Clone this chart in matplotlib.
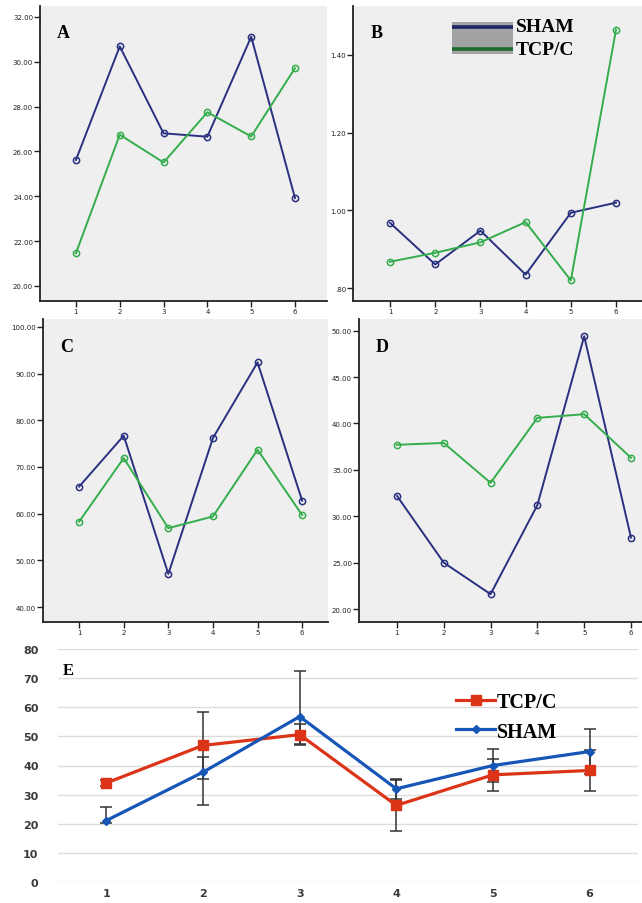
import numpy as np
import matplotlib.pyplot as plt
from matplotlib.patches import Rectangle

# data
days = [1, 2, 3, 4, 5, 6]

a_sham = [25.62, 30.69, 26.81, 26.66, 31.12, 23.92]
a_tcp = [21.46, 26.75, 25.51, 27.75, 26.67, 29.72]

b_sham = [0.968, 0.861, 0.948, 0.835, 0.994, 1.020]
b_tcp = [0.868, 0.891, 0.918, 0.970, 0.820, 1.465]

c_sham = [65.8, 76.7, 47.1, 76.2, 92.4, 62.8]
c_tcp = [58.3, 71.9, 56.9, 59.4, 73.7, 59.7]

d_sham = [32.2, 25.0, 21.6, 31.2, 49.4, 27.7]
d_tcp = [37.7, 37.9, 33.6, 40.6, 41.0, 36.3]

e_tcp = [34.0, 46.9, 50.6, 26.3, 36.8, 38.3]
e_tcp_err = [1.0, 11.6, 3.6, 8.8, 5.5, 6.9]
e_sham = [21.1, 37.7, 56.8, 32.0, 40.0, 44.8]
e_sham_lo = [1.0, 11.4, 9.4, 3.5, 5.7, 7.8]
e_sham_hi = [4.8, 5.2, 15.6, 3.5, 5.7, 7.8]

NAVY = '#2a3080'
GREEN = '#34ad4c'
RED = '#dc3418'
BLUE = '#1656b6'
SERIF = 'Liberation Serif'

W, H = 642, 904
fig = plt.figure(figsize=(W / 100, H / 100), dpi=100)


def box(x0, y0, x1, y1):
    '''pixel box -> figure fraction rect'''
    return [x0 / W, 1 - y1 / H, (x1 - x0) / W, (y1 - y0) / H]


def spss_panel(rect, sham, tcp, ylim, xlim, yticks, ylabels, letter):
    ax = fig.add_axes(rect)
    ax.set_facecolor('#efefef')
    ax.plot(days, sham, color=NAVY, lw=1.4, marker='o', ms=4.5,
            mfc='none', mec=NAVY, mew=1.1)
    ax.plot(days, tcp, color=GREEN, lw=1.4, marker='o', ms=4.5,
            mfc='none', mec=GREEN, mew=1.1)
    ax.set_xlim(*xlim)
    ax.set_ylim(*ylim)
    ax.set_yticks(yticks)
    ax.set_yticklabels(ylabels)
    ax.set_xticks(days)
    ax.set_xticklabels([str(d) for d in days])
    for s in ['top', 'right']:
        ax.spines[s].set_visible(False)
    for s in ['left', 'bottom']:
        ax.spines[s].set_linewidth(1.3)
        ax.spines[s].set_color('#222222')
    ax.tick_params(axis='both', labelsize=5, length=4, width=1,
                   pad=1, colors='#222222')
    ax.text(0.06, 0.91, letter, transform=ax.transAxes, fontsize=13,
            fontweight='bold', family=SERIF, va='center', ha='left')
    return ax


ax_a = spss_panel(box(40, 7, 327, 302), a_sham, a_tcp, (19.33, 32.49),
                  (0.18, 6.73), np.arange(20, 33, 2),
                  ['%.2f' % v for v in np.arange(20, 33, 2)], 'A')

ax_b = spss_panel(box(353, 7, 642, 302), b_sham, b_tcp, (0.767, 1.526),
                  (0.18, 6.575), [0.8, 1.0, 1.2, 1.4],
                  ['.80', '1.00', '1.20', '1.40'], 'B')

ax_c = spss_panel(box(43, 320, 328, 623), c_sham, c_tcp, (36.8, 101.7),
                  (0.19, 6.58), np.arange(40, 101, 10),
                  ['%.2f' % v for v in np.arange(40, 101, 10)], 'C')

ax_d = spss_panel(box(359, 320, 642, 623), d_sham, d_tcp, (18.6, 51.26),
                  (0.19, 6.235), np.arange(20, 51, 5),
                  ['%.2f' % v for v in np.arange(20, 51, 5)], 'D')

# legend of panel B: grey block with the two line colours
lx0, lx1 = 0.343, 0.553
ax_b.add_patch(Rectangle((lx0, 0.837), lx1 - lx0, 0.109, transform=ax_b.transAxes,
                         facecolor='#a3a3a3', edgecolor='none', zorder=3))
ax_b.plot([lx0, lx1], [0.929, 0.929], transform=ax_b.transAxes,
          color='#1e2466', lw=2.6, zorder=4, solid_capstyle='butt')
ax_b.plot([lx0, lx1], [0.854, 0.854], transform=ax_b.transAxes,
          color='#1d6b2c', lw=2.6, zorder=4, solid_capstyle='butt')
ax_b.text(0.564, 0.929, 'SHAM', transform=ax_b.transAxes, fontsize=14,
          fontweight='bold', family=SERIF, va='center', ha='left')
ax_b.text(0.564, 0.854, 'TCP/C', transform=ax_b.transAxes, fontsize=14,
          fontweight='bold', family=SERIF, va='center', ha='left')

# panel E
ax_e = fig.add_axes(box(58, 650, 638, 883))
ax_e.errorbar(days, e_tcp, yerr=e_tcp_err, fmt='none', ecolor='#333333',
              elinewidth=1.1, capsize=4, capthick=1.1, zorder=2)
ax_e.errorbar(days, e_sham, yerr=[e_sham_lo, e_sham_hi], fmt='none',
              ecolor='#333333', elinewidth=1.1, capsize=4, capthick=1.1, zorder=2)
l_tcp, = ax_e.plot(days, e_tcp, color=RED, lw=2.3, marker='s', ms=7,
                   mec=RED, zorder=3)
l_sham, = ax_e.plot(days, e_sham, color=BLUE, lw=2.3, marker='D', ms=4.5,
                    mec=BLUE, zorder=4)
ax_e.set_xlim(0.5, 6.5)
ax_e.set_ylim(0, 80)
ax_e.set_yticks(np.arange(0, 81, 10))
ax_e.set_xticks(days)
ax_e.grid(axis='y', color='#dcdcdc', lw=1)
ax_e.set_axisbelow(True)
for s in ax_e.spines.values():
    s.set_visible(False)
ax_e.tick_params(axis='both', length=0, colors='#3a3a3a', labelsize=8)
ax_e.tick_params(axis='y', pad=14)
ax_e.tick_params(axis='x', pad=4)
for lab in ax_e.get_xticklabels() + ax_e.get_yticklabels():
    lab.set_fontweight('bold')
ax_e.text(0.008, 0.91, 'E', transform=ax_e.transAxes, fontsize=12,
          fontweight='bold', family=SERIF, va='center', ha='left')
ax_e.legend([l_tcp, l_sham], ['TCP/C', 'SHAM'], loc='upper left',
            bbox_to_anchor=(0.673, 0.848), frameon=False, handlelength=1.9,
            handletextpad=0.1, labelspacing=0.45, borderaxespad=0,
            prop={'family': SERIF, 'size': 14.5, 'weight': 'bold'})

fig.savefig('out.png', dpi=100)
